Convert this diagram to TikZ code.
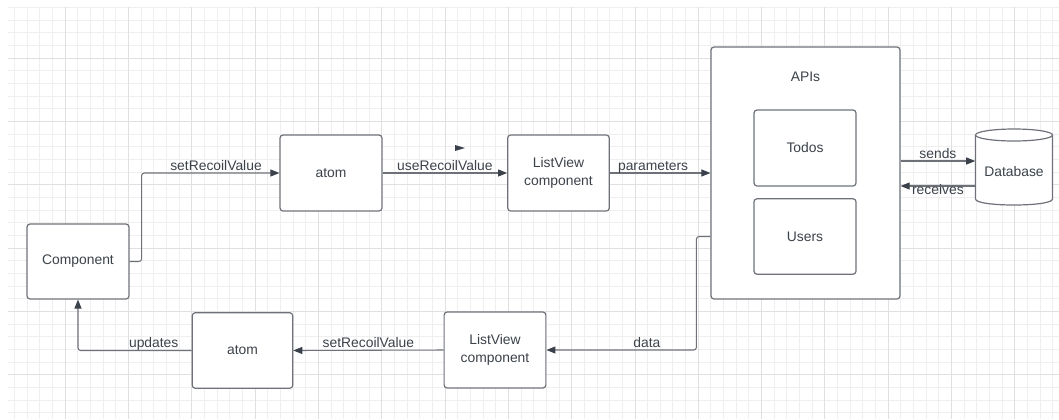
\documentclass[tikz,border=0pt]{standalone}
\usepackage{fontspec}
\setmainfont{Liberation Sans}
\usepackage{xcolor}
\usetikzlibrary{arrows.meta,calc}

\definecolor{lineGray}{RGB}{110,114,120}
\definecolor{tipGray}{RGB}{58,65,74}
\definecolor{txtGray}{RGB}{60,66,74}
\definecolor{gridMinor}{RGB}{239,239,239}
\definecolor{gridMajor}{RGB}{224,224,224}

\tikzset{
  box/.style={draw=lineGray, line width=0.9pt, rounded corners=2.25pt, fill=white,
    minimum width=76.5pt, minimum height=57pt, align=center, text=txtGray,
    font=\fontsize{10.4}{13}\selectfont},
  txt/.style={text=txtGray, font=\fontsize{10.4}{13}\selectfont, inner sep=0pt},
  conn/.style={draw=lineGray, line width=0.8pt, rounded corners=2pt,
    -{Triangle[length=6.75pt,width=5.25pt,color=tipGray]}},
  lbl/.style={txt, anchor=south, text depth=0pt, inner sep=1.6pt},
  lblbelow/.style={txt, anchor=north, text height=5.6pt, inner sep=0.4pt},
  gridminor/.style={draw=gridMinor, line width=0.75pt},
  gridmajor/.style={draw=gridMajor, line width=0.75pt},
  dbshape/.style={draw=lineGray, line width=0.9pt, fill=white},
}

\begin{document}
\begin{tikzpicture}[x=0.75pt,y=0.75pt,yscale=-1,xscale=1]
\useasboundingbox (0,0) rectangle (1059,419);

%Grid
\foreach \k in {-4,...,78} \draw[gridminor] ({65.3+12.66*\k},7) -- ({65.3+12.66*\k},419);
\foreach \k in {-4,...,28} \draw[gridminor] (8,{58.3+12.66*\k}) -- (1059,{58.3+12.66*\k});
\foreach \m in {0,...,15} \draw[gridmajor] ({65.3+63.3*\m},7) -- ({65.3+63.3*\m},419);
\foreach \m in {0,...,5} \draw[gridmajor] (8,{58.3+63.3*\m}) -- (1059,{58.3+63.3*\m});

%Flowchart: Process
\node[box, minimum height=56.25pt] (comp) at (78,261.5) {Component};
\node[box] (atomtop) at (331,173) {atom};
\node[box, minimum width=76.2pt] (lvtop) at (558.5,173) {ListView\\component};
\node[box, minimum width=141.75pt, minimum height=189pt] (apis) at (805.5,173) {};
\node[box] (todos) at (805,148) {Todos};
\node[box, minimum height=56.6pt] (users) at (805,236.5) {Users};
\node[box, minimum width=75.3pt, minimum height=56.7pt] (atombot) at (242.5,350.5) {atom};
\node[box, minimum width=76.3pt] (lvbot) at (495,350) {ListView\\component};

% Text Node
\node[txt] (apislbl) at (805.5,77) {APIs};

%Flowchart: Database
\draw[dbshape] (975.5,135) -- (975.5,199) .. controls (975.5,207) and (1052.5,207) .. (1052.5,199) -- (1052.5,135) ;
\draw[dbshape] (1014,135) ellipse [x radius=38.5, y radius=6];
\node[txt, minimum width=57.75pt] (db) at (1014,172) {Database};

%Straight Lines
\draw[conn] (comp.east) -- ++(12,0) |- (atomtop.west) node[lbl, pos=0.77] (setlbltop) {setRecoilValue};
\draw[conn] (atomtop.east) -- (lvtop.west) node[lbl, midway] (uselbl) {useRecoilValue};
\draw[conn] (lvtop.east) -- (apis.west) node[lbl, pos=0.43] (parlbl) {parameters};
\draw[conn] ($(apis.east |- db.west)+(0,-11)$) -- ($(db.west)+(0,-11)$) node[lbl, midway] (sendlbl) {sends};
\draw[conn] ($(db.west)+(0,14)$) -- ($(apis.east |- db.west)+(0,14)$) node[lblbelow, midway] (recvlbl) {receives};
\draw[conn] (users -| apis.west) -- ++(-14,0) |- (lvbot.east) node[lbl, pos=0.665] (datalbl) {data};
\draw[conn] (lvbot.west) -- (atombot.east) node[lbl, midway] (setlblbot) {setRecoilValue};
\draw[conn] (atombot.west) -| (comp.south) node[lbl, pos=0.167] (updlbl) {updates};

%Stray arrow head
\fill[tipGray] (455,145) -- (465,148) -- (455,151) -- cycle ;

\end{tikzpicture}
\end{document}
